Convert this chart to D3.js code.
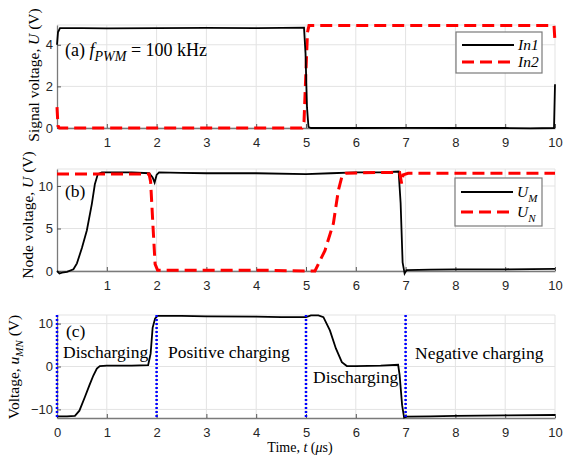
<!DOCTYPE html>
<meta charset="utf-8">
<style>
body { margin: 0; background: #fff; }
.tick text { font: 13px "Liberation Sans", Arial, sans-serif; fill: #262626; }
.serif { font-family: "Liberation Serif", "Times New Roman", serif; fill: #000; }
</style>
<body>
<svg width="565" height="458"></svg>
<script src="https://d3js.org/d3.v7.min.js"></script>
<script>

// time axis (microseconds)
var xTicks = [0, 1, 2, 3, 4, 5, 6, 7, 8, 9, 10];

// (a) signal voltages
var tIn1 = [0, 0.02, 0.06, 0.5, 1, 2, 3, 4, 4.5, 4.96, 4.99, 5.02, 5.05, 5.1, 6, 7, 8, 9, 9.5, 9.98, 10];
var vIn1 = [4.0, 4.6, 4.8, 4.8, 4.79, 4.8, 4.81, 4.8, 4.81, 4.82, 3.6, 1.0, 0.05, 0.0, 0.0, 0.01, 0.0, 0.0, -0.02, 0.0, 2.1];
var tIn2 = [0, 0.02, 0.05, 2, 4.92, 4.96, 5.0, 5.03, 5.06, 7, 9.98, 10];
var vIn2 = [1.0, 0.1, 0.0, 0.0, 0.0, 0.3, 2.8, 4.6, 4.92, 4.92, 4.92, 4.15];

// (b) node voltages
var tUM = [0, 0.05, 0.1, 0.2, 0.33, 0.4, 0.5, 0.6, 0.7, 0.76, 0.82, 0.9, 1.2, 1.5, 1.85, 1.92, 1.96, 2.0, 2.05, 2.5, 3, 4, 5, 5.5, 6, 6.5, 6.86, 6.9, 6.94, 6.98, 7.02, 7.5, 8, 9, 10];
var vUM = [0, -0.3, -0.2, -0.1, 0.2, 0.9, 2.7, 4.8, 7.9, 10.2, 11.4, 11.6, 11.6, 11.6, 11.5, 11.0, 10.4, 11.3, 11.6, 11.55, 11.5, 11.5, 11.4, 11.5, 11.6, 11.6, 11.7, 8, 1, -0.3, 0.1, 0.15, 0.2, 0.2, 0.25];
var tUN = [0, 1, 1.85, 1.88, 1.93, 1.97, 2.02, 3, 4, 5, 5.18, 5.38, 5.55, 5.65, 5.73, 5.8, 6.5, 6.88, 6.92, 6.95, 7.05, 8, 9, 10];
var vUN = [11.4, 11.4, 11.4, 10.5, 5, 0.8, 0.1, 0.1, 0.1, 0.0, 0.0, 2.4, 5.6, 9.5, 11.3, 11.5, 11.6, 11.6, 10.3, 11.3, 11.5, 11.5, 11.5, 11.5];

// (c) u_MN
var tMN = [0, 0.02, 0.2, 0.36, 0.45, 0.56, 0.65, 0.73, 0.8, 0.86, 1.0, 1.5, 1.83, 1.88, 1.92, 1.97, 2.02, 2.5, 3, 4, 4.5, 5, 5.1, 5.25, 5.35, 5.48, 5.6, 5.72, 5.82, 6, 6.5, 6.85, 6.88, 6.93, 6.97, 7.02, 7.5, 8, 9, 10];
var vMN = [-11.8, -11.6, -11.6, -11.5, -10.3, -7.1, -4.4, -2.1, -0.5, 0.1, 0.2, 0.2, 0.3, 3, 9, 11.2, 11.8, 11.8, 11.7, 11.6, 11.5, 11.5, 11.9, 11.9, 11.5, 8.4, 4.2, 1, 0.1, 0.1, 0.2, 0.4, -2, -9, -11.9, -11.7, -11.6, -11.5, -11.4, -11.3];
var phaseTimes = [0, 2, 5, 7];

var svg = d3.select("svg");
var x = d3.scaleLinear().domain([0, 10]).range([57, 555]);
var fmt = d3.format("~g");

var line = function(ts, vs, y) {
  return d3.line().x(function(d, i) { return x(ts[i]); }).y(function(d) { return y(d); })(vs);
};

function panel(top, bottom, yDomain, yTicks, showZero) {
  var y = d3.scaleLinear().domain(yDomain).range([bottom, top]);
  var g = svg.append("g");
  // grid
  g.selectAll(".gx").data(xTicks.slice(1)).enter().append("line")
    .attr("x1", x).attr("x2", x).attr("y1", top).attr("y2", bottom)
    .attr("stroke", "#e3e3e3");
  g.selectAll(".gy").data(yTicks.concat([yDomain[1]])).enter().append("line")
    .attr("x1", 57).attr("x2", 555).attr("y1", y).attr("y2", y)
    .attr("stroke", "#e3e3e3");
  // axes
  var ax = g.append("g").attr("transform", "translate(0," + bottom + ")")
    .call(d3.axisBottom(x).tickValues(showZero ? xTicks : xTicks.slice(1)).tickFormat(fmt)
      .tickSizeInner(-4).tickSizeOuter(0).tickPadding(9.5));
  var ay = g.append("g").attr("transform", "translate(57,0)")
    .call(d3.axisLeft(y).tickValues(yTicks).tickFormat(fmt)
      .tickSizeInner(-4).tickSizeOuter(0).tickPadding(4));
  [ax, ay].forEach(function(a) {
    a.select(".domain").attr("stroke", "#7a7a7a").attr("stroke-width", 1.3);
    a.selectAll(".tick line").attr("stroke", "#555");
  });
  return {g: g, y: y};
}

// ---- (a)
var pa = panel(25, 128, [0, 4.95], [0, 2, 4], false);
pa.g.append("path").attr("d", line(tIn2, vIn2, pa.y)).attr("fill", "none")
  .attr("stroke", "#ff0000").attr("stroke-width", 3).attr("stroke-dasharray", "12,6");
pa.g.append("path").attr("d", line(tIn1, vIn1, pa.y)).attr("fill", "none")
  .attr("stroke", "#000").attr("stroke-width", 1.8);

// ---- (b)
var pb = panel(169, 271, [0, 12], [0, 5, 10], false);
pb.g.append("path").attr("d", line(tUM, vUM, pb.y)).attr("fill", "none")
  .attr("stroke", "#000").attr("stroke-width", 1.8);
pb.g.append("path").attr("d", line(tUN, vUN, pb.y)).attr("fill", "none")
  .attr("stroke", "#ff0000").attr("stroke-width", 3).attr("stroke-dasharray", "12,6");

// ---- (c)
var pc = panel(315, 418, [-12, 12], [-10, 0, 10], true);
pc.g.append("path").attr("d", line(tMN, vMN, pc.y)).attr("fill", "none")
  .attr("stroke", "#000").attr("stroke-width", 1.8);
pc.g.selectAll(".phase").data(phaseTimes).enter().append("line")
  .attr("x1", x).attr("x2", x).attr("y1", pc.y(12)).attr("y2", pc.y(-12))
  .attr("stroke", "#0000ff").attr("stroke-width", 2.5).attr("stroke-dasharray", "2,2");

// ---- legends
function legend(lx, ly, w, h, rows) {
  svg.append("rect").attr("x", lx).attr("y", ly).attr("width", w).attr("height", h)
    .attr("fill", "#fff").attr("stroke", "#7a7a7a").attr("stroke-width", 1.2);
  rows.forEach(function(r) {
    svg.append("line").attr("x1", lx + 6).attr("x2", lx + 58).attr("y1", r.y).attr("y2", r.y)
      .attr("stroke", r.color).attr("stroke-width", r.dash ? 3 : 1.8)
      .attr("stroke-dasharray", r.dash ? "12,6" : null);
    var t = svg.append("text").attr("class", "serif").attr("x", lx + 62).attr("y", r.y + 5)
      .style("font-size", "15.5px").style("font-style", "italic");
    t.append("tspan").text(r.main);
    if (r.sub) t.append("tspan").attr("dy", 5).style("font-size", "11px").text(r.sub);
  });
}
legend(456, 32, 86, 41, [
  {y: 45, color: "#000", main: "In1"},
  {y: 62, color: "#ff0000", dash: true, main: "In2"}
]);
legend(455, 178, 87, 48, [
  {y: 192, color: "#000", main: "U", sub: "M"},
  {y: 212, color: "#ff0000", dash: true, main: "U", sub: "N"}
]);

// ---- panel annotations
var ta = svg.append("text").attr("class", "serif").attr("x", 65).attr("y", 55.5).style("font-size", "18px");
ta.append("tspan").text("(a) ");
ta.append("tspan").style("font-style", "italic").text("f");
ta.append("tspan").attr("dy", 5).style("font-style", "italic").style("font-size", "14px").text("PWM");
ta.append("tspan").attr("dy", -5).text(" = 100 kHz");

function label(tx, ty, s) {
  svg.append("text").attr("class", "serif").attr("x", tx).attr("y", ty).style("font-size", "17.5px").text(s);
}
label(65, 197, "(b)");
label(66, 337, "(c)");
label(63, 358, "Discharging");
label(168, 358, "Positive charging");
label(313, 383, "Discharging");
label(415, 359, "Negative charging");

// ---- axis titles
function ytitle(cx, cy, parts) {
  var t = svg.append("text").attr("class", "serif")
    .attr("transform", "translate(" + cx + "," + cy + ") rotate(-90)")
    .attr("text-anchor", "middle").style("font-size", "15.5px");
  parts.forEach(function(p) {
    var s = t.append("tspan").text(p.s);
    if (p.i) s.style("font-style", "italic");
    if (p.sub) s.attr("dy", 4).style("font-size", "11px");
    if (p.up) s.attr("dy", -4);
  });
}
ytitle(39, 75, [{s: "Signal voltage, "}, {s: "U", i: true}, {s: " (V)"}]);
ytitle(33, 215, [{s: "Node voltage, "}, {s: "U", i: true}, {s: " (V)"}]);
ytitle(19, 367, [{s: "Voltage, "}, {s: "u", i: true}, {s: "MN", i: true, sub: true}, {s: " (V)", up: true}]);

var tx = svg.append("text").attr("class", "serif").attr("x", 300).attr("y", 452)
  .attr("text-anchor", "middle").style("font-size", "14px");
tx.append("tspan").text("Time, ");
tx.append("tspan").style("font-style", "italic").text("t");
tx.append("tspan").text(" (");
tx.append("tspan").style("font-style", "italic").text("\u03bc");
tx.append("tspan").text("s)");

</script>
</body>
